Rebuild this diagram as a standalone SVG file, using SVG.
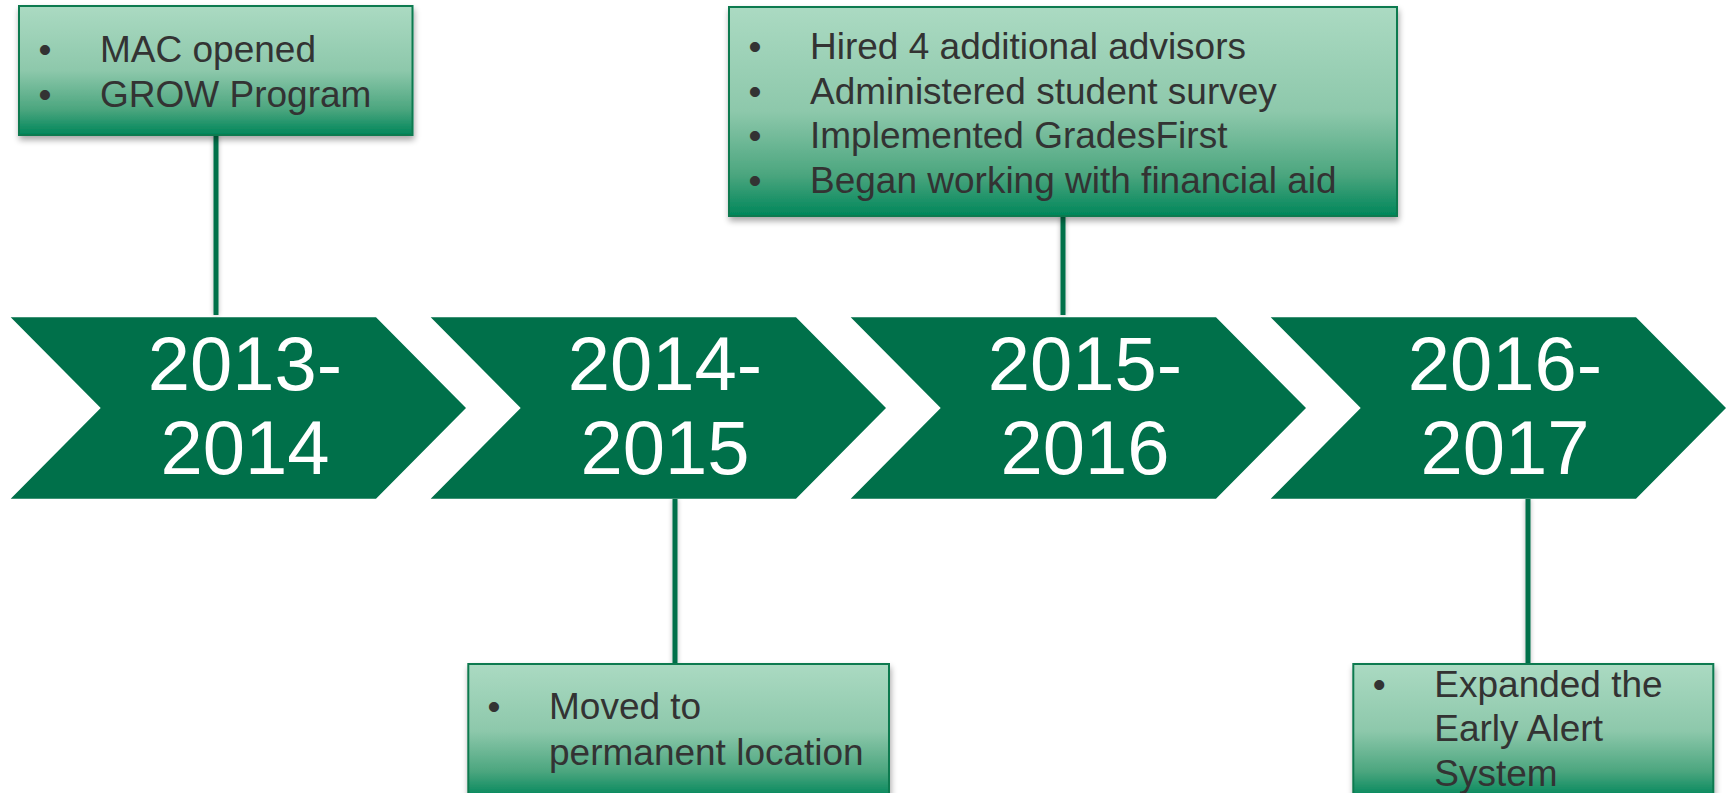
<svg xmlns="http://www.w3.org/2000/svg" width="1731" height="793" viewBox="0 0 1731 793">
  <defs>
    <linearGradient id="boxFill" x1="0" y1="0" x2="0" y2="1">
      <stop offset="0" stop-color="#ABDAC2"/>
      <stop offset="0.5" stop-color="#8DC8AB"/>
      <stop offset="0.8" stop-color="#4CA67F"/>
      <stop offset="1" stop-color="#00865A"/>
    </linearGradient>
    <filter id="shadow" x="-10%" y="-10%" width="120%" height="130%">
      <feGaussianBlur in="SourceAlpha" stdDeviation="3"/>
      <feOffset dx="1" dy="4" result="b"/>
      <feComponentTransfer><feFuncA type="linear" slope="0.35"/></feComponentTransfer>
      <feMerge><feMergeNode/><feMergeNode in="SourceGraphic"/></feMerge>
    </filter>
    <filter id="lineShadow" x="-200%" y="-5%" width="500%" height="110%">
      <feGaussianBlur in="SourceAlpha" stdDeviation="2.5"/>
      <feComponentTransfer><feFuncA type="linear" slope="0.3"/></feComponentTransfer>
      <feMerge><feMergeNode/><feMergeNode in="SourceGraphic"/></feMerge>
    </filter>
  </defs>
  <style>
    .chev { fill: #00704A; }
    .year { font-family: "Liberation Sans", Arial, sans-serif; font-size: 76px; fill: #FFFFFF; text-anchor: middle; }
    .box { fill: url(#boxFill); stroke: #0A7A50; stroke-width: 2; filter: url(#shadow); }
    .item { font-family: "Liberation Sans", Arial, sans-serif; font-size: 37px; fill: #333333; }
    .bullet { font-family: "Liberation Sans", Arial, sans-serif; font-size: 37px; fill: #333333; text-anchor: middle; }
    .link { fill: #00704A; filter: url(#lineShadow); }
  </style>

  <rect width="1731" height="793" fill="#FFFFFF"/>

  <!-- connectors between year chevrons and note boxes (5px-wide bars) -->
  <g id="connectors">
    <rect class="link" x="213.5" y="135" width="5" height="180"/>
    <rect class="link" x="672.5" y="499" width="5" height="165"/>
    <rect class="link" x="1060.5" y="216" width="5" height="99"/>
    <rect class="link" x="1525.5" y="499" width="5" height="165"/>
  </g>

  <!-- year chevrons -->
  <g id="year-2013">
    <polygon class="chev" points="10.7,317.3 376,317.3 466,408 376,498.7 10.7,498.7 100.7,408"/>
    <text class="year" x="245" y="390">2013-</text>
    <text class="year" x="245" y="474">2014</text>
  </g>
  <g id="year-2014">
    <polygon class="chev" points="430.7,317.3 796,317.3 886,408 796,498.7 430.7,498.7 520.7,408"/>
    <text class="year" x="665" y="390">2014-</text>
    <text class="year" x="665" y="474">2015</text>
  </g>
  <g id="year-2015">
    <polygon class="chev" points="850.7,317.3 1216,317.3 1306,408 1216,498.7 850.7,498.7 940.7,408"/>
    <text class="year" x="1085" y="390">2015-</text>
    <text class="year" x="1085" y="474">2016</text>
  </g>
  <g id="year-2016">
    <polygon class="chev" points="1270.7,317.3 1636,317.3 1726,408 1636,498.7 1270.7,498.7 1360.7,408"/>
    <text class="year" x="1505" y="390">2016-</text>
    <text class="year" x="1505" y="474">2017</text>
  </g>

  <!-- note boxes -->
  <g id="note-2013">
    <rect class="box" x="19" y="6" width="393.5" height="129"/>
    <text class="bullet" x="45" y="61.7">•</text>
    <text class="item" x="100" y="61.7">MAC opened</text>
    <text class="bullet" x="45" y="106.7">•</text>
    <text class="item" x="100" y="106.7">GROW Program</text>
  </g>

  <g id="note-2014">
    <rect class="box" x="468.3" y="664" width="420.7" height="134"/>
    <text class="bullet" x="494" y="719.3">•</text>
    <text class="item" x="549" y="719.3">Moved to</text>
    <text class="item" x="549" y="765">permanent location</text>
  </g>

  <g id="note-2015">
    <rect class="box" x="729" y="7" width="668" height="209"/>
    <text class="bullet" x="755" y="59">•</text>
    <text class="item" x="810" y="59">Hired 4 additional advisors</text>
    <text class="bullet" x="755" y="103.5">•</text>
    <text class="item" x="810" y="103.5">Administered student survey</text>
    <text class="bullet" x="755" y="148">•</text>
    <text class="item" x="810" y="148">Implemented GradesFirst</text>
    <text class="bullet" x="755" y="192.5">•</text>
    <text class="item" x="810" y="192.5">Began working with financial aid</text>
  </g>

  <g id="note-2016">
    <rect class="box" x="1353.3" y="664" width="360" height="134"/>
    <text class="bullet" x="1379.3" y="697.3">•</text>
    <text class="item" x="1434.3" y="697.3">Expanded the</text>
    <text class="item" x="1434.3" y="741">Early Alert</text>
    <text class="item" x="1434.3" y="786">System</text>
  </g>
</svg>
